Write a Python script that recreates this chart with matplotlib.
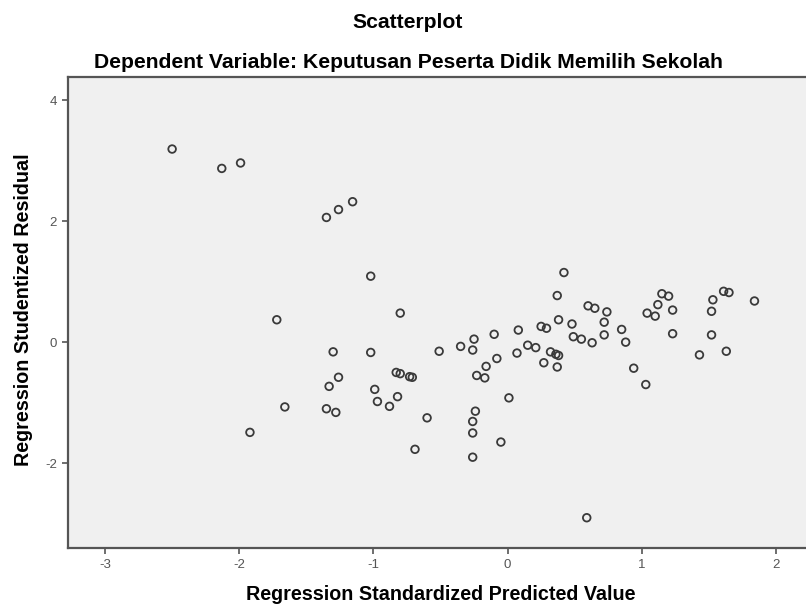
import matplotlib.pyplot as plt

predicted = [-2.50, -2.13, -1.99, -1.35, -1.26, -1.155, -1.02, -0.80, -1.72, -1.30,
             -1.02, -1.26, -1.33, -0.83, -0.80, -0.73, -0.71, -0.99, -0.97, -0.88,
             -0.82, -1.35, -1.28, -1.66, -1.92, -0.69, -0.60, -0.51, -0.35, -0.25,
             -0.26, -0.10, -0.16, -0.23, -0.17, -0.08, 0.01, -0.24, -0.26, -0.26,
             -0.05, -0.26, 0.08, 0.07, 0.15, 0.21, 0.25, 0.29, 0.38, 0.48,
             0.37, 0.42, 0.32, 0.36, 0.38, 0.27, 0.37, 0.49, 0.55, 0.63,
             0.60, 0.65, 0.74, 0.72, 0.72, 0.85, 0.88, 0.94, 1.03, 1.04,
             1.10, 1.12, 1.15, 1.20, 1.23, 1.23, 1.43, 1.52, 1.52, 1.53,
             1.61, 1.65, 1.63, 1.84, 0.59]
residual = [3.19, 2.87, 2.96, 2.06, 2.19, 2.32, 1.09, 0.48, 0.37, -0.16,
            -0.17, -0.58, -0.73, -0.50, -0.52, -0.57, -0.58, -0.78, -0.98, -1.06,
            -0.90, -1.10, -1.16, -1.07, -1.49, -1.77, -1.25, -0.15, -0.07, 0.05,
            -0.13, 0.13, -0.40, -0.55, -0.59, -0.27, -0.92, -1.14, -1.31, -1.50,
            -1.65, -1.90, 0.20, -0.18, -0.05, -0.09, 0.26, 0.23, 0.37, 0.30,
            0.77, 1.15, -0.16, -0.20, -0.22, -0.34, -0.41, 0.09, 0.05, -0.01,
            0.60, 0.56, 0.50, 0.33, 0.12, 0.21, 0.00, -0.43, -0.70, 0.48,
            0.43, 0.62, 0.80, 0.76, 0.53, 0.14, -0.21, 0.12, 0.51, 0.70,
            0.84, 0.82, -0.15, 0.68, -2.90]

x_ticks = [-3, -2, -1, 0, 1, 2]
y_ticks = [-2, 0, 2, 4]

plt.rcParams['font.family'] = ['Liberation Sans', 'DejaVu Sans']

fig = plt.figure(figsize=(8.06, 6.05), dpi=100)
ax = fig.add_axes([68 / 806, 1 - 548 / 605, 1 - 68 / 806, (548 - 77) / 605])
ax.set_facecolor('#f0f0f0')

ax.scatter(predicted, residual, s=30, facecolors='none', edgecolors='#3a3a3a',
           linewidths=1.3, zorder=3)

ax.set_xlim(-3.276, 2.224)
ax.set_ylim(-3.40, 4.38)
ax.set_xticks(x_ticks)
ax.set_yticks(y_ticks)
ax.set_xticklabels([str(t) for t in x_ticks])
ax.set_yticklabels([str(t) for t in y_ticks])

for side in ['left', 'bottom', 'top']:
    ax.spines[side].set_color('#555555')
    ax.spines[side].set_linewidth(1.6)
ax.spines['right'].set_visible(False)
ax.tick_params(direction='out', length=4.5, width=1.2, color='#555555',
               labelsize=9.5, labelcolor='#555555', pad=3.5)

ax.set_xlabel('Regression Standardized Predicted Value', fontsize=14.2,
              fontweight='bold')
ax.set_ylabel('Regression Studentized Residual', fontsize=14.2,
              fontweight='bold')
ax.xaxis.set_label_coords((441 - 68) / 738, (548 - 585) / 471)
ax.yaxis.set_label_coords((33 - 68) / 738, (548 - 310) / 471)

fig.text(408 / 806, 1 - 23 / 605, 'Scatterplot', ha='center', va='center',
         fontsize=15.2, fontweight='bold')
fig.text(408 / 806, 1 - 62 / 605, 'Dependent Variable: Keputusan Peserta Didik Memilih Sekolah',
         ha='center', va='center', fontsize=15.2, fontweight='bold')

fig.savefig('out.png', dpi=100)
